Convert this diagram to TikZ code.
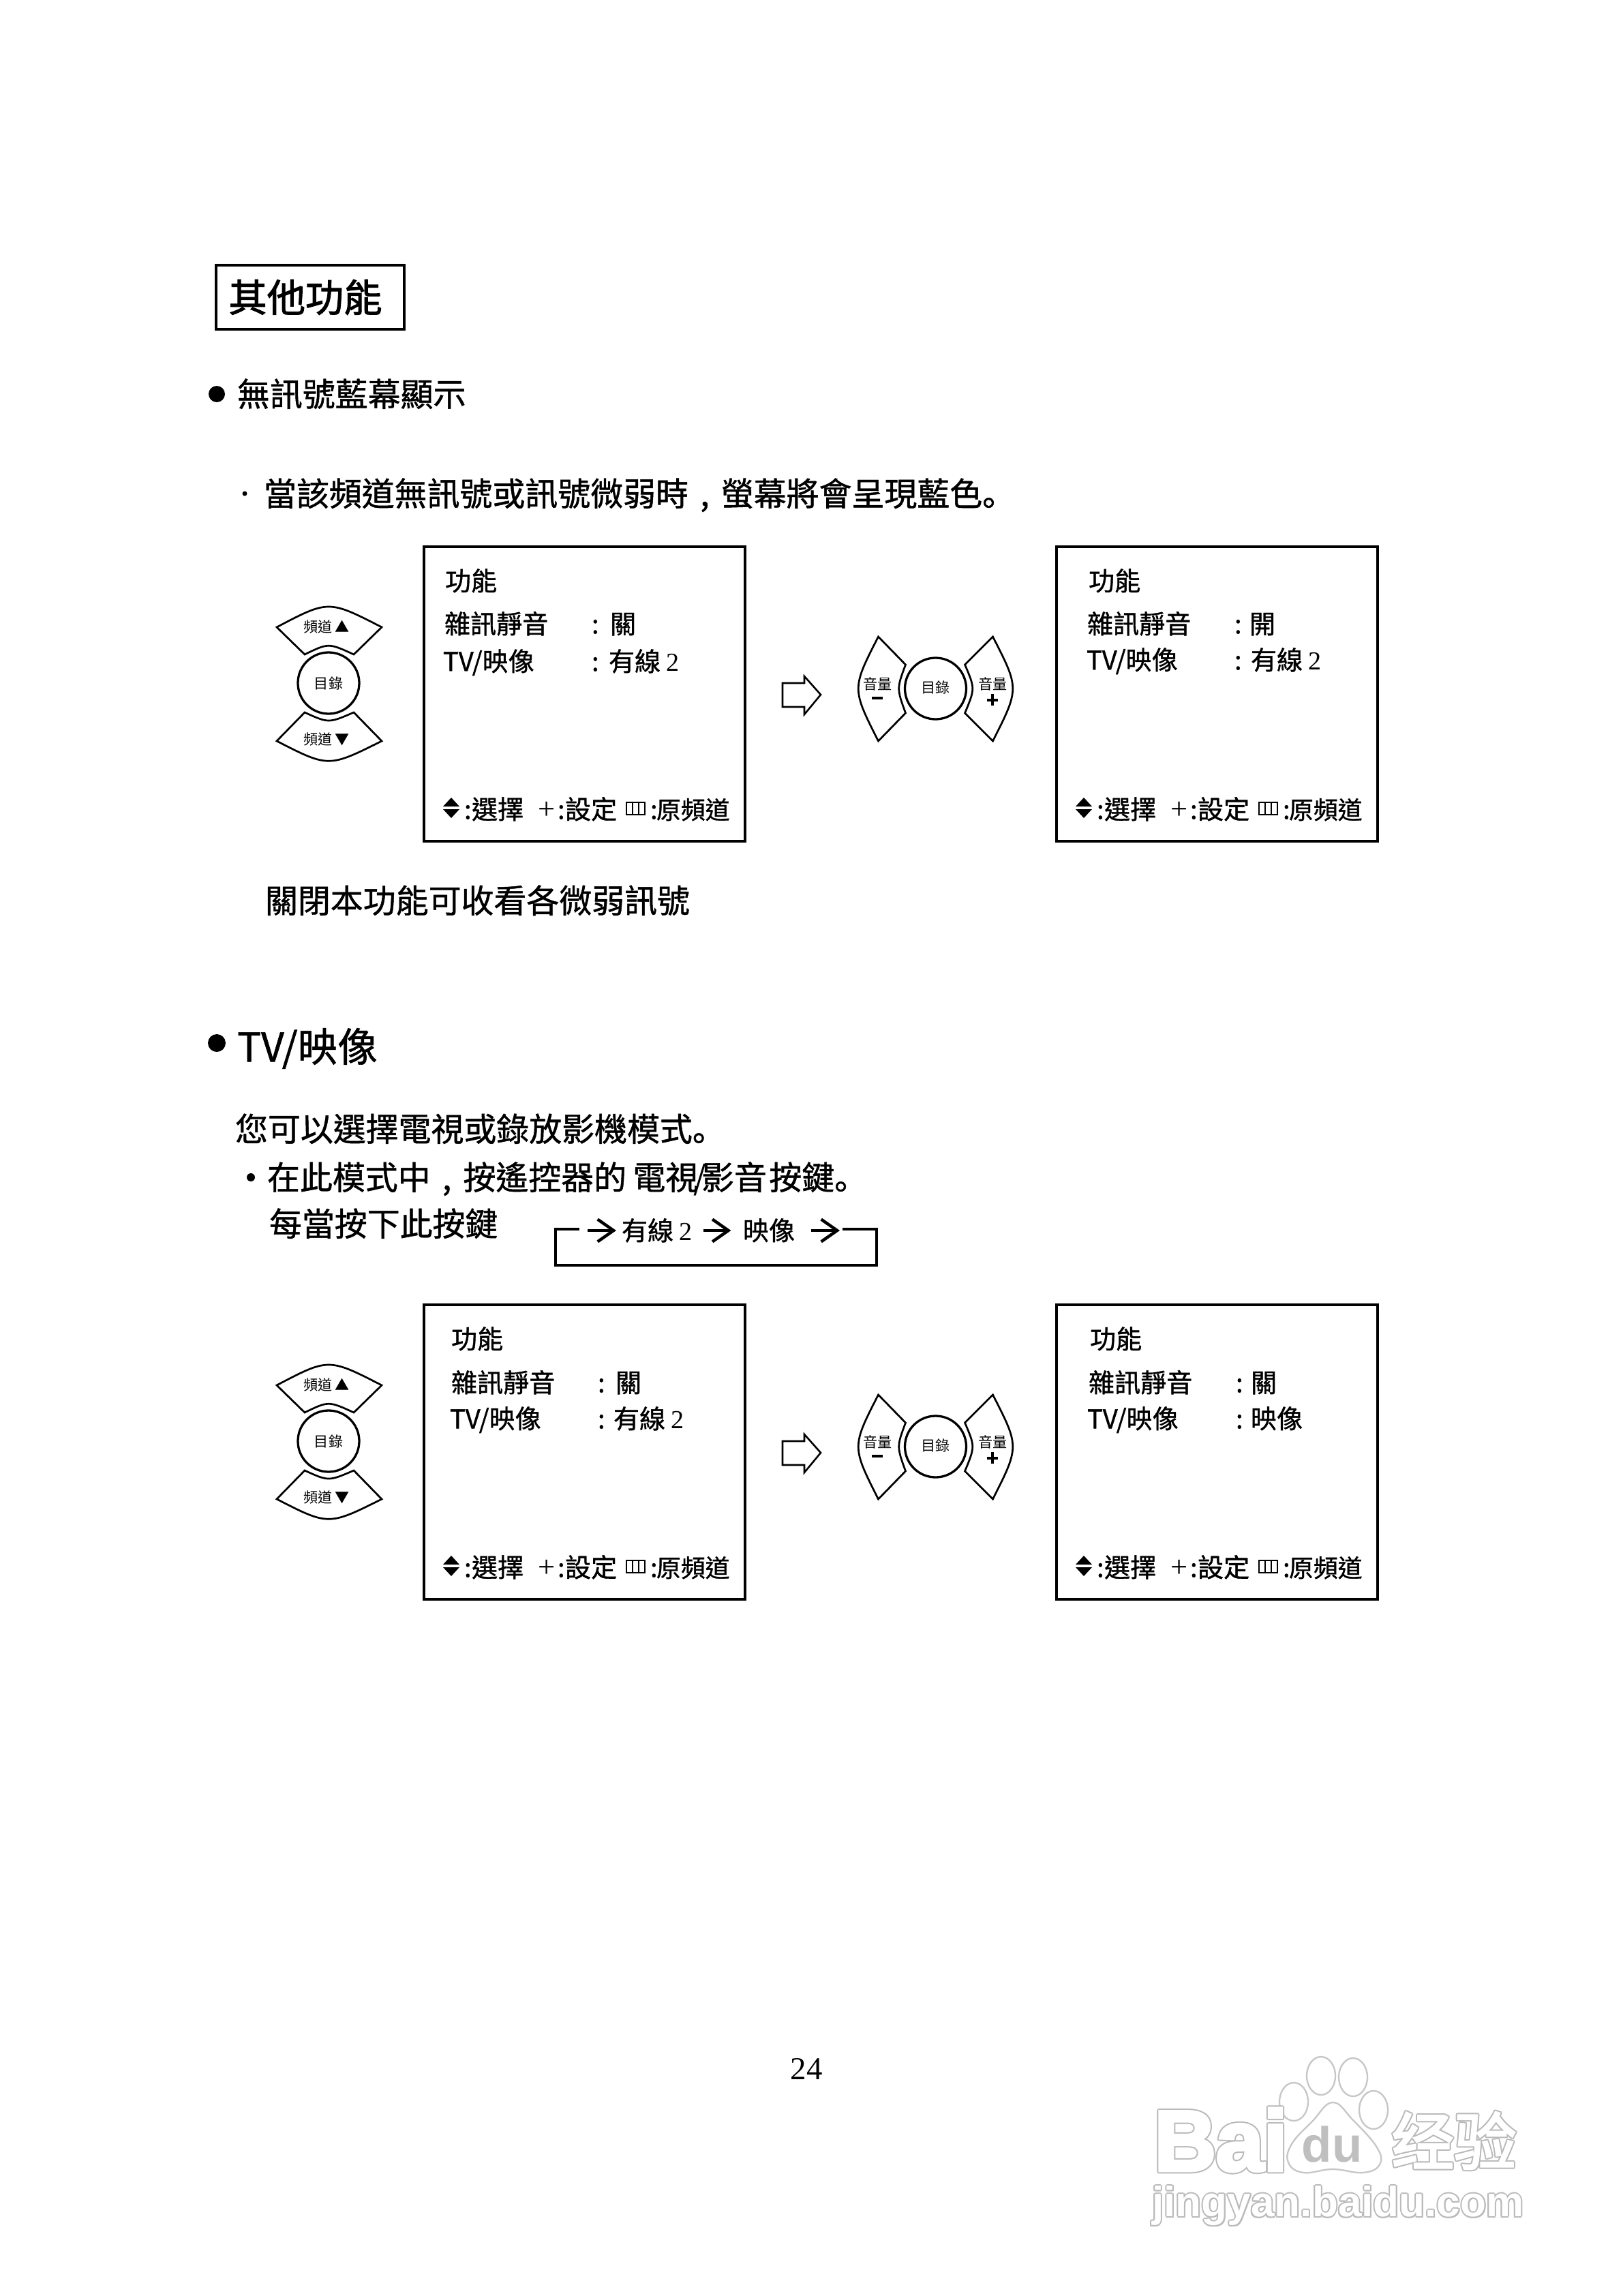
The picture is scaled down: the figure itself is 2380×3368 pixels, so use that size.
\documentclass[tikz,border=0pt]{standalone}
\usepackage{fontspec}
\usetikzlibrary{arrows.meta}
\setmainfont{Noto Sans CJK TC}
\newfontfamily\cjkm[FakeBold=1]{Noto Sans CJK TC}
\newfontfamily\cjkb[FakeBold=1.8]{Noto Sans CJK TC}
\newfontfamily\cjkl{Noto Sans CJK TC}
\newfontfamily\cjksc[FakeBold=1]{Noto Sans CJK SC}
\newfontfamily\cjkw[FakeBold=3]{Noto Sans CJK SC}
\newfontfamily\serf{Liberation Serif}
\newfontfamily\sansb{Liberation Sans}
\newfontfamily\sansx[BoldFeatures={FakeBold=4}]{Liberation Sans}
\newcommand\wmark[5]{%
  \foreach \dx/\dy in {-2/0,2/0,0/-2,0/2,-1.5/-1.5,1.5/1.5,-1.5/1.5,1.5/-1.5}
    \node[wmo,#5] at (#2+\dx,#3+\dy) {#4};
  \node[wmi,#5] (#1) at (#2,#3) {#4};}
\newcommand\stopmark{{\cjksc 。}}
\newcommand\comm{\makebox[1em]{,}}
\tikzset{
  txt/.style={anchor=west,inner sep=0pt,outer sep=0pt},
  body/.style={txt,text height=35.6pt,text depth=4.9pt,font=\cjkm\fontsize{40.9}{48}\selectfont},
  head/.style={txt,text height=42pt,text depth=5.7pt,font=\cjkm\fontsize{50}{58}\selectfont},
  menu/.style={txt,text height=28.2pt,text depth=3.8pt,font=\cjkm\fontsize{32.5}{38}\selectfont},
  menusmall/.style={txt,text height=28.2pt,text depth=3.8pt,font=\cjkm\fontsize{30.6}{36}\selectfont},
  small/.style={inner sep=0pt,font=\cjkl\fontsize{18}{22}\selectfont},
  keyline/.style={draw=black,line width=2.3pt,fill=white,line join=miter},
  screenbox/.style={draw=black,line width=3.4pt,minimum width=402pt,minimum height=369pt,inner sep=0pt,anchor=north west},
  wmo/.style={inner sep=0pt,text=black!27},
  wmi/.style={inner sep=0pt,text=white},
  barb/.style={line width=3.8pt,-{Straight Barb[length=20pt,width=28pt,line width=3.8pt]}},
  remoteV/.pic={
    \draw[keyline] (-76,-82) .. controls (0,-122) .. (78,-82) -- (37,-42) .. controls (0,-59) .. (-35,-42) -- cycle;
    \draw[keyline] (-76,85) .. controls (0,124) .. (78,85) -- (37,43) .. controls (0,59) .. (-35,43) -- cycle;
    \draw[keyline,line width=2.8pt] (0,0) circle[radius=45];
    \node[small] (-up) at (-3,-82) {頻道 ▲};
    \node[small] (-menu) at (0,0) {目錄};
    \node[small] (-down) at (-3,83) {頻道 ▼};
  },
  remoteH/.pic={
    \draw[keyline] (-84,-76) .. controls (-123,0) .. (-84,77) -- (-44,36) .. controls (-57,0) .. (-44,-35) -- cycle;
    \draw[keyline] (84,-76) .. controls (123,0) .. (84,77) -- (43,36) .. controls (58,0) .. (43,-35) -- cycle;
    \draw[keyline,line width=2.8pt] (0,0) circle[radius=45];
    \node[small] (-menu) at (0,-2) {目錄};
    \node[small] (-vl) at (-85,-7) {音量};
    \node[small] (-vr) at (84,-7) {音量};
    \fill (-94,12) rectangle (-78,16);
    \fill (75,15) rectangle (91,18.5);
    \fill (81.5,8) rectangle (85,25);
  },
  footer/.pic={
    \fill (-12,-4) -- (0,-17) -- (12,-4) -- cycle;
    \fill (-12,0) -- (12,0) -- (0,13) -- cycle;
    \node[menu] (-c1) at (19,0) {:};
    \node[menu] (-sel) at (30,0) {選擇};
    \node[anchor=center,inner sep=0pt,font=\serf\fontsize{38}{44}\selectfont] (-plus) at (140,2) {+};
    \node[menu] (-c2) at (156,0) {:};
    \node[menu] (-set) at (167,0) {設定};
    \draw[line width=2pt] (257,-10) rectangle (284,8);
    \draw[line width=2pt] (266,-10) -- (266,8) (275,-10) -- (275,8);
    \node[menu] (-c3) at (292,0) {:};
    \node[menusmall] (-orig) at (301,0) {原頻道};
  },
  rarrow/.pic={
    \draw[line width=2.2pt,fill=white] (0,-17) -- (32,-17) -- (32,-27) -- (56,0) -- (32,29) -- (32,18) -- (0,18) -- cycle;
  },
}
\begin{document}
\begin{tikzpicture}[x=0.03cm,y=-0.03cm]
\useasboundingbox (0,0) rectangle (2380,3368);
\fill[white] (0,0) rectangle (2380,3368);

% title
\node[draw=black,line width=3.2pt,minimum width=235pt,minimum height=80pt,inner sep=0pt,text width=220pt,align=left] (title) at (455,436) {\hspace*{8pt}\cjkb\fontsize{48}{56}\selectfont 其他功能};

% section 1
\fill (318,578) circle[radius=12];
\node[body] (s1) at (348,578) {無訊號藍幕顯示};
\fill (359,724) circle[radius=3.5];
\node[body] (s1a) at (387,724) {當該頻道無訊號或訊號微弱時\comm 螢幕將會呈現藍色\stopmark};

\node[screenbox] (sA) at (620,800) {};
\node[menu] (sAt) at (653,852) {功能};
\node[menu] (sAa) at (652,915) {雜訊靜音};
\node[menu] (sAac) at (868,915) {:};
\node[menu] (sAav) at (895,915) {關};
\node[menu] (sAb) at (650,970) {TV/映像};
\node[menu] (sAbc) at (868,970) {:};
\node[menu] (sAbv) at (893,970) {有線 {\serf 2}};
\pic (fA) at (662,1187) {footer};

\pic (rA) at (482,1002) {remoteV};
\pic (aA) at (1148,1019) {rarrow};
\pic (hA) at (1372.5,1010) {remoteH};

\node[screenbox] (sB) at (1548,800) {};
\node[menu] (sBt) at (1597,852) {功能};
\node[menu] (sBa) at (1595,915) {雜訊靜音};
\node[menu] (sBac) at (1811,915) {:};
\node[menu] (sBav) at (1833,915) {開};
\node[menu] (sBb) at (1594,968) {TV/映像};
\node[menu] (sBbc) at (1811,968) {:};
\node[menu] (sBbv) at (1835,968) {有線 {\serf 2}};
\pic (fB) at (1590,1187) {footer};

\node[body] (s1b) at (389,1321) {關閉本功能可收看各微弱訊號};

% section 2
\fill (318,1530) circle[radius=13];
\node[head] (s2) at (348,1536) {TV/映像};
\node[body] (s2a) at (345,1656) {您可以選擇電視或錄放影機模式\stopmark};
\fill (368,1727) circle[radius=6];
\node[body] (s2b) at (392,1727) {在此模式中\comm 按遙控器的\hspace{8pt}電視\kern-6pt{\cjkl /}\kern-6pt影音\hspace{3pt}按鍵\stopmark};
\node[body] (s2c) at (395,1795) {每當按下此按鍵};

% cycle
\coordinate (cL) at (815,1803);
\coordinate (cLb) at (815,1856);
\coordinate (cRb) at (1286,1856);
\coordinate (cR) at (1286,1803);
\coordinate (cA) at (862,1805);
\coordinate (cB) at (904,1805);
\coordinate (cC) at (1190,1805);
\coordinate (cD) at (1232,1805);
\node[menu] (cable) at (912,1805) {有線 {\serf 2}};
\node[menu] (video) at (1090,1805) {映像};
\draw[line width=3.4pt] (850,1803) -- (cL) -- (cLb) -- (cRb) -- (cR) -- (1236,1803);
\draw[barb] (cA) -- (cB);
\draw[barb] ([xshift=14pt]cable.east) -- ([xshift=-15pt]video.west);
\draw[barb] (cC) -- (cD);

% second row
\node[screenbox] (sC) at (620,1912) {};
\node[menu] (sCt) at (662,1964) {功能};
\node[menu] (sCa) at (662,2028) {雜訊靜音};
\node[menu] (sCac) at (877,2028) {:};
\node[menu] (sCav) at (903,2028) {關};
\node[menu] (sCb) at (660,2081) {TV/映像};
\node[menu] (sCbc) at (877,2081) {:};
\node[menu] (sCbv) at (900,2081) {有線 {\serf 2}};
\pic (fC) at (662,2299) {footer};

\pic (rC) at (482,2114) {remoteV};
\pic (aC) at (1148,2131) {rarrow};
\pic (hC) at (1372.5,2122) {remoteH};

\node[screenbox] (sD) at (1548,1912) {};
\node[menu] (sDt) at (1599,1964) {功能};
\node[menu] (sDa) at (1597,2028) {雜訊靜音};
\node[menu] (sDac) at (1813,2028) {:};
\node[menu] (sDav) at (1835,2028) {關};
\node[menu] (sDb) at (1595,2081) {TV/映像};
\node[menu] (sDbc) at (1813,2081) {:};
\node[menu] (sDbv) at (1835,2081) {映像};
\pic (fD) at (1590,2299) {footer};

% page number
\node[inner sep=0pt,font=\serf\fontsize{40}{48}\selectfont] (page) at (1183,3035) {24};

% watermark
\foreach \cx/\cy in {1898/3083,1938/3045,1985/3047,2015/3095}
  \draw[black!22,line width=2pt,fill=white] (\cx,\cy) ellipse[x radius=21,y radius=28];
\draw[black!22,line width=2pt,fill=white] plot[smooth cycle,tension=.7] coordinates
  {(1955,3084) (1985,3110) (2020,3150) (2024,3175) (2000,3187) (1955,3182) (1912,3187) (1890,3172) (1895,3145) (1925,3112)};
\node[inner sep=0pt,text=black!25,font=\sansb\bfseries\fontsize{62}{70}\selectfont] (wmdu) at (1954,3145) {du};
\wmark{wmBai}{1791}{3139}{\sansx\bfseries\fontsize{107}{120}\selectfont Bai}{}
\wmark{wmjy}{2133}{3140}{\cjkw\fontsize{78}{90}\selectfont 经验}{}
\wmark{wmurl}{1963}{3236}{\sansb\bfseries\fontsize{53}{60}\selectfont jingyan.baidu.com}{}
\end{tikzpicture}
\end{document}
